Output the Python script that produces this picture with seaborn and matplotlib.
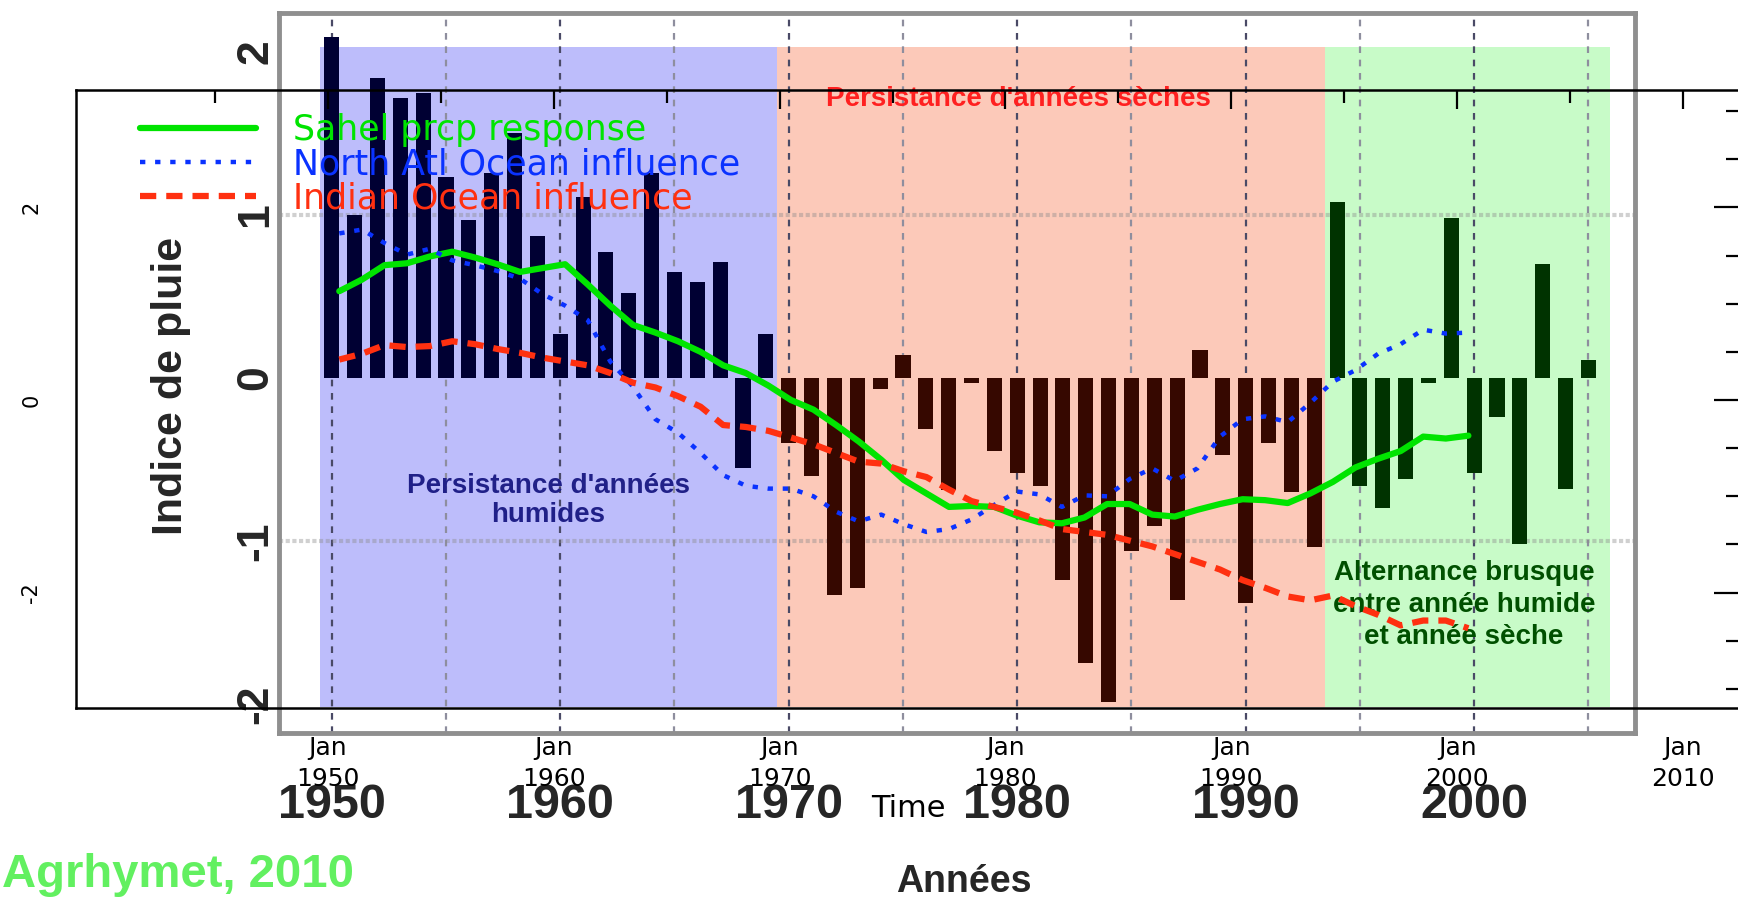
import numpy as np
import pandas as pd
import matplotlib
matplotlib.use("Agg")
import matplotlib.pyplot as plt
import seaborn as sns

# === Data: rainfall index (bars, back chart) ===
years = list(range(1950, 2006))
rain_index = [2.09, 1.00, 1.84, 1.72, 1.75, 1.23, 0.97, 1.26, 1.50, 0.87,
              0.27, 1.11, 0.77, 0.52, 1.26, 0.65, 0.59, 0.71, -0.55, 0.27,
              -0.40, -0.60, -1.33, -1.29, -0.07, 0.14, -0.31, -0.69, -0.03, -0.45,
              -0.58, -0.66, -1.24, -1.75, -1.99, -1.06, -0.91, -1.36, 0.17, -0.47,
              -1.38, -0.40, -0.70, -1.04, 1.08, -0.66, -0.80, -0.62, -0.03, 0.98,
              -0.58, -0.24, -1.02, 0.70, -0.68, 0.11]
period_bounds = [1949.5, 1969.5, 1993.45, 2005.95]
period_names = ["humide", "seche", "alternance"]
shade_colors = ["#bdbdfb", "#fcc9b9", "#c8fbc8"]
bar_colors = ["#000033", "#360800", "#003300"]

# === Data: model responses (lines, front chart) ===
line_years = [y + 0.5 for y in range(1950, 2001)]
sahel = [1.13, 1.25, 1.40, 1.42, 1.49, 1.54, 1.48, 1.41, 1.33, 1.37,
         1.41, 1.20, 0.98, 0.78, 0.70, 0.61, 0.50, 0.36, 0.28, 0.15,
         0.00, -0.10, -0.26, -0.43, -0.62, -0.83, -0.97, -1.11, -1.10, -1.11,
         -1.20, -1.27, -1.28, -1.22, -1.08, -1.08, -1.19, -1.21, -1.14, -1.08,
         -1.03, -1.04, -1.07, -0.97, -0.85, -0.70, -0.61, -0.53, -0.38, -0.40,
         -0.37]
north_atl = [1.73, 1.77, 1.63, 1.51, 1.57, 1.45, 1.40, 1.34, 1.26, 1.10,
             0.98, 0.83, 0.40, 0.14, -0.20, -0.34, -0.55, -0.78, -0.89, -0.92,
             -0.92, -1.00, -1.16, -1.26, -1.19, -1.29, -1.37, -1.34, -1.24, -1.09,
             -0.95, -0.98, -1.11, -0.99, -1.00, -0.82, -0.71, -0.84, -0.71, -0.38,
             -0.20, -0.17, -0.23, -0.03, 0.19, 0.31, 0.48, 0.58, 0.73, 0.69,
             0.70]
indian = [0.42, 0.48, 0.57, 0.55, 0.56, 0.61, 0.58, 0.53, 0.49, 0.44,
          0.40, 0.36, 0.28, 0.18, 0.13, 0.04, -0.07, -0.26, -0.28, -0.32,
          -0.39, -0.46, -0.55, -0.64, -0.66, -0.74, -0.80, -0.93, -1.05, -1.11,
          -1.17, -1.25, -1.34, -1.37, -1.40, -1.46, -1.52, -1.60, -1.68, -1.76,
          -1.87, -1.95, -2.04, -2.08, -2.03, -2.14, -2.23, -2.34, -2.29, -2.29,
          -2.37]
series_labels = ["Sahel prcp response", "North Atl Ocean influence", "Indian Ocean influence"]
series_colors = ["#00e400", "#0a32ff", "#ff3010"]

# === Tick labels ===
decades = [1950, 1960, 1970, 1980, 1990, 2000]
back_yticks = [-2, -1, 0, 1, 2]
front_xticks = [1950, 1960, 1970, 1980, 1990, 2000, 2010]
front_xminor = [1945, 1955, 1965, 1975, 1985, 1995, 2005]
front_yticks = [-2, 0, 2]
front_yminor = [-3, -2.5, -1.5, -1, -0.5, 0.5, 1, 1.5, 2.5, 3]

sns.set_theme(style="white")
plt.rcParams["font.family"] = ["DejaVu Sans"]
ARIAL = ["Liberation Sans", "DejaVu Sans"]

W, H = 1738, 897
fig = plt.figure(figsize=(W / 100, H / 100), dpi=100, facecolor="white")


def px_rect(left, top, right, bottom):
    return [left / W, 1 - bottom / H, (right - left) / W, (bottom - top) / H]


# === Back chart: rainfall index bars ===
ax = fig.add_axes(px_rect(279, 13, 1635, 733))
ax.set_facecolor("white")

for i, c in enumerate(shade_colors):
    ax.fill_between([period_bounds[i], period_bounds[i + 1]], -2.02, 2.03,
                    color=c, lw=0, zorder=0)

for yr in range(1950, 2006, 5):
    ax.axvline(yr, color="#4a4a66" if yr % 10 == 0 else "#8e8e9e",
               ls=(0, (3, 3)), lw=1.6, zorder=0.5)
for v in (-1, 1):
    ax.axhline(v, color="#8a8a8a", lw=3, alpha=0.4, ls=(0, (1, 0.6)), zorder=0.5)

bars = pd.DataFrame({"year": years, "index": rain_index})
bars["period"] = pd.cut(bars["year"], bins=period_bounds, labels=period_names).astype(str)
sns.barplot(data=bars, x="year", y="index", hue="period", hue_order=period_names,
            palette=dict(zip(period_names, bar_colors)), saturation=1,
            native_scale=True, dodge=False, width=0.66, errorbar=None,
            legend=False, linewidth=0, zorder=2, ax=ax)

ax.set_xlim(1947.69, 2007.04)
ax.set_ylim(-2.178, 2.239)
for s in ax.spines.values():
    s.set_color("#8f8f8f")
    s.set_linewidth(3.5)

ax.set_xticks(decades, labels=[str(d) for d in decades])
ax.tick_params(axis="x", length=0, pad=36)
for lab in ax.get_xticklabels():
    lab.set_fontfamily(ARIAL)
    lab.set_fontweight("bold")
    lab.set_fontsize(35)

ax.set_yticks(back_yticks, labels=[str(v) for v in back_yticks])
ax.tick_params(axis="y", length=0, pad=2)
for lab in ax.get_yticklabels():
    lab.set_fontfamily(ARIAL)
    lab.set_fontweight("bold")
    lab.set_fontsize(32)
    lab.set_rotation(90)
    lab.set_va("center")

ax.set_xlabel("Années", fontsize=27, fontweight="bold", family=ARIAL)
ax.xaxis.set_label_coords(0.505, -0.2075)
ax.xaxis.label.set_va("center")
ax.set_ylabel("Indice de pluie", fontsize=31, fontweight="bold", family=ARIAL)
ax.yaxis.set_label_coords(-0.0796, 0.482)
ax.yaxis.label.set_va("center")

ax.text(1980.04, 1.71, "Persistance d'années sèches", color="#ff2020",
        fontsize=20, fontweight="bold", family=ARIAL, ha="center", va="center", zorder=3)
ax.text(1959.47, -0.75, "Persistance d'années\nhumides", color="#202088",
        fontsize=20, fontweight="bold", family=ARIAL, ha="center", va="center",
        linespacing=1.15, zorder=3)
ax.text(1999.55, -1.39, "Alternance brusque\nentre année humide\net année sèche",
        color="#005000", fontsize=20, fontweight="bold", family=ARIAL,
        ha="center", va="center", linespacing=1.3, zorder=3)

# === Front chart: model responses ===
ax2 = fig.add_axes(px_rect(76, 90, 1745, 708))
ax2.set_facecolor("none")

styles = ["-", (0, (1.2, 2.2)), (0, (2.6, 1.6))]
widths = [4.5, 3.2, 4.5]
for vals, lab, col, ls, lw in zip([sahel, north_atl, indian], series_labels,
                                  series_colors, styles, widths):
    sns.lineplot(x=line_years, y=vals, ax=ax2, color=col, lw=lw, linestyle=ls, label=lab)

ax2.set_xlim(1938.84, 2012.75)
ax2.set_ylim(-3.198, 3.219)
for s in ax2.spines.values():
    s.set_color("black")
    s.set_linewidth(1.8)

ax2.set_xticks(front_xticks, labels=[f"Jan\n{y}" for y in front_xticks])
ax2.set_xticks(front_xminor, minor=True)
ax2.set_yticks(front_yticks, labels=[str(v) for v in front_yticks])
ax2.set_yticks(front_yminor, minor=True)
ax2.tick_params(which="both", direction="in", top=True, right=True,
                width=1.6, color="black", labelcolor="black")
ax2.tick_params(axis="x", which="major", length=14, pad=20, labelsize=18)
ax2.tick_params(axis="x", which="minor", length=9.5)
ax2.tick_params(axis="y", which="major", length=22, pad=25, labelsize=15)
ax2.tick_params(axis="y", which="minor", length=14)
for lab in ax2.get_xticklabels():
    lab.set_linespacing(1.4)
for lab in ax2.get_yticklabels():
    lab.set_rotation(90)
    lab.set_va("center")

ax2.set_xlabel("Time", fontsize=22, color="black")
ax2.xaxis.set_label_coords(0.4985, -0.163)
ax2.xaxis.label.set_va("center")
ax2.set_ylabel("")

ax2.legend(loc="upper left", bbox_to_anchor=(140 / W, 1 - 113 / H),
           bbox_transform=fig.transFigure, frameon=False, fontsize=25,
           handlelength=3.35, handletextpad=1.05, labelspacing=0.0,
           borderpad=0, borderaxespad=0, labelcolor="linecolor")

fig.text(2 / W, 1 - 887 / H, "Agrhymet, 2010", color="#62f060", fontsize=34,
         fontweight="bold", family=ARIAL, ha="left", va="baseline")

fig.savefig("out.png", dpi=100, facecolor="white")
